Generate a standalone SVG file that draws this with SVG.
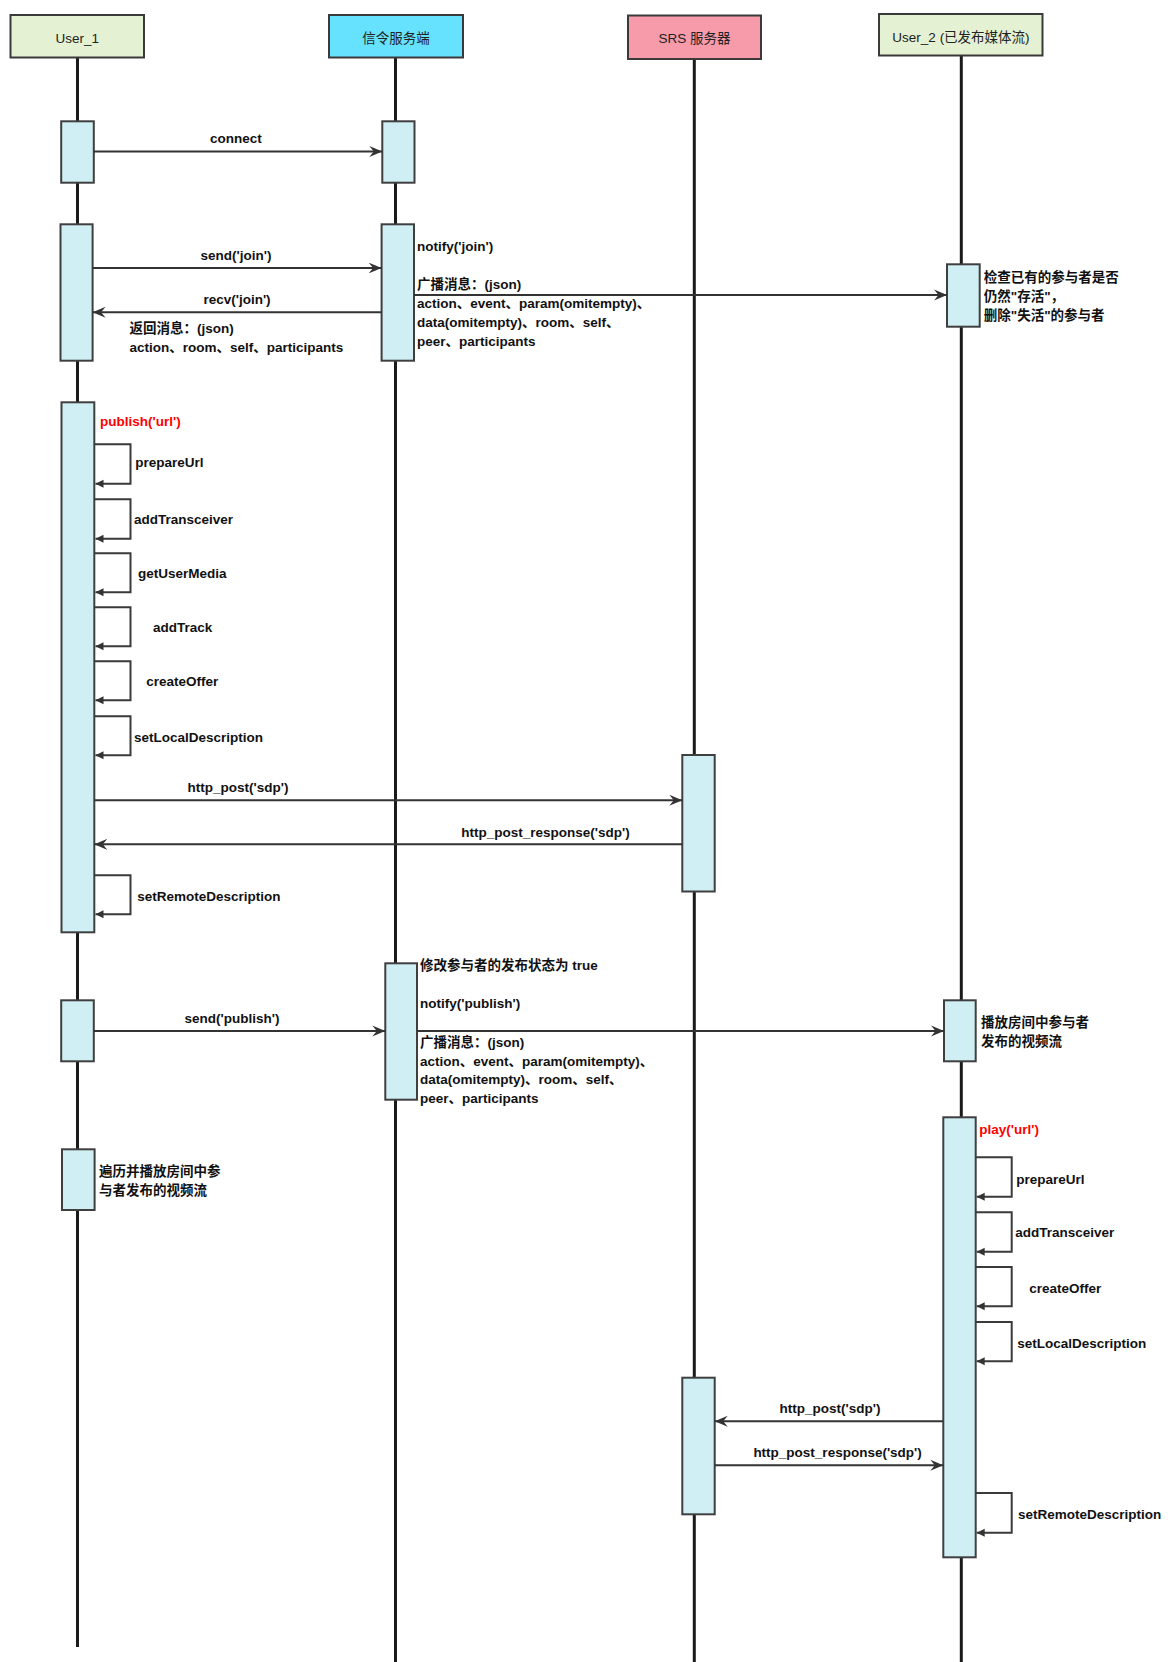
<svg xmlns="http://www.w3.org/2000/svg" width="1168" height="1662" viewBox="0 0 1168 1662">
<defs>
<style>
.life{stroke:#1a1a1a;stroke-width:3;fill:none}
.hdr{stroke:#3a3a3a;stroke-width:2}
.act{fill:#d0eff4;stroke:#3f3f3f;stroke-width:2}
.msg{stroke:#333;stroke-width:2;fill:none}
.loop{stroke:#3a3a3a;stroke-width:2;fill:none}
text{font-family:"Liberation Sans","Noto Sans CJK SC",sans-serif;font-size:13.5px;fill:#111}
.h{font-weight:normal;fill:#222;text-anchor:middle}
.b{font-weight:bold}
.m{font-weight:bold;text-anchor:middle}
.red{fill:#ff0000;font-weight:bold}
</style>
<marker id="open" markerWidth="14" markerHeight="12" refX="13" refY="6" orient="auto" markerUnits="userSpaceOnUse">
<path d="M0,0.5 L13,6 L0,11.5 L4.5,6 Z" fill="#333"/>
</marker>
<marker id="block" markerWidth="10" markerHeight="10" refX="9" refY="5" orient="auto" markerUnits="userSpaceOnUse">
<path d="M1,1 L9,5 L1,9 Z" fill="#333"/>
</marker>
</defs>
<rect width="1168" height="1662" fill="#ffffff"/>

<g id="lifelines">
<line class="life" x1="77.5" y1="58" x2="77.5" y2="1647"/>
<line class="life" x1="395.5" y1="58" x2="395.5" y2="1662"/>
<line class="life" x1="694.3" y1="59" x2="694.3" y2="1662"/>
<line class="life" x1="961.3" y1="56" x2="961.3" y2="1662"/>
</g>

<g id="user1">
<rect class="hdr" x="10.5" y="15" width="133.5" height="42.5" fill="#e4f1d2"/>
<text class="h" x="77.2" y="43">User_1</text>
</g>
<g id="server">
<rect class="hdr" x="329" y="15" width="134" height="42.5" fill="#66e2ff"/>
<text class="h" x="396" y="43">信令服务端</text>
</g>
<g id="srs">
<rect class="hdr" x="628" y="15.5" width="133" height="43.5" fill="#f79aaa"/>
<text class="h" x="694.5" y="43">SRS 服务器</text>
</g>
<g id="user2">
<rect class="hdr" x="879" y="14" width="163.5" height="41.5" fill="#e4f1d2"/>
<text class="h" x="961" y="42">User_2 (已发布媒体流)</text>
</g>

<g id="activations">
<rect class="act" x="61.2" y="121.3" width="32.6" height="61.4"/>
<rect class="act" x="382.3" y="121.3" width="32.2" height="61.4"/>
<rect class="act" x="60.5" y="224.3" width="32.1" height="136.4"/>
<rect class="act" x="381.6" y="224.3" width="32.4" height="136.4"/>
<rect class="act" x="947" y="264.3" width="32.7" height="62.4"/>
<rect class="act" x="61.5" y="402.3" width="32.8" height="530"/>
<rect class="act" x="682.3" y="755" width="32.4" height="136.5"/>
<rect class="act" x="61.2" y="1000.3" width="32.6" height="61"/>
<rect class="act" x="385.3" y="963.3" width="31.7" height="136.4"/>
<rect class="act" x="944" y="1000.3" width="31.7" height="61"/>
<rect class="act" x="62" y="1149.3" width="32.6" height="60.7"/>
<rect class="act" x="943.3" y="1117.3" width="32.4" height="440"/>
<rect class="act" x="682.3" y="1377.7" width="32.4" height="136.6"/>
</g>

<g id="connectors">
<line class="msg" x1="93.8" y1="151.5" x2="382.3" y2="151.5" marker-end="url(#open)"/>
<line class="msg" x1="92.6" y1="268" x2="381.6" y2="268" marker-end="url(#open)"/>
<line class="msg" x1="381.6" y1="312.3" x2="92.6" y2="312.3" marker-end="url(#open)"/>
<line class="msg" x1="414" y1="295" x2="947" y2="295" marker-end="url(#open)"/>
<line class="msg" x1="94.3" y1="800.3" x2="682.3" y2="800.3" marker-end="url(#open)"/>
<line class="msg" x1="682.3" y1="844.3" x2="94.3" y2="844.3" marker-end="url(#open)"/>
<line class="msg" x1="93.8" y1="1031" x2="385.3" y2="1031" marker-end="url(#open)"/>
<line class="msg" x1="417" y1="1031" x2="944" y2="1031" marker-end="url(#open)"/>
<line class="msg" x1="943.3" y1="1421.3" x2="714.7" y2="1421.3" marker-end="url(#open)"/>
<line class="msg" x1="714.7" y1="1465.3" x2="943.3" y2="1465.3" marker-end="url(#open)"/>

<path class="loop" d="M94.5,444.3 H130.5 V483.7 H95.5" marker-end="url(#block)"/>
<path class="loop" d="M94.5,499.3 H130.5 V538.7 H95.5" marker-end="url(#block)"/>
<path class="loop" d="M94.5,553.3 H130.5 V592.3 H95.5" marker-end="url(#block)"/>
<path class="loop" d="M94.5,607.3 H130.5 V646.3 H95.5" marker-end="url(#block)"/>
<path class="loop" d="M94.5,661.3 H130.5 V700.3 H95.5" marker-end="url(#block)"/>
<path class="loop" d="M94.5,716.3 H130.5 V755.3 H95.5" marker-end="url(#block)"/>
<path class="loop" d="M94.5,875.3 H130.5 V914.3 H95.5" marker-end="url(#block)"/>

<path class="loop" d="M975.7,1157.3 H1011.7 V1196.7 H976.7" marker-end="url(#block)"/>
<path class="loop" d="M975.7,1212.3 H1011.7 V1251.7 H976.7" marker-end="url(#block)"/>
<path class="loop" d="M975.7,1267 H1011.7 V1306.3 H976.7" marker-end="url(#block)"/>
<path class="loop" d="M975.7,1322 H1011.7 V1361.3 H976.7" marker-end="url(#block)"/>
<path class="loop" d="M975.7,1493 H1011.7 V1532.7 H976.7" marker-end="url(#block)"/>
</g>

<g id="labels">
<text class="m" x="236" y="142.5">connect</text>
<text class="m" x="236" y="260">send('join')</text>
<text class="m" x="237" y="304">recv('join')</text>
<text class="b" x="129.4" y="333.3">返回消息：(json)</text>
<text class="b" x="129.4" y="352.3">action、room、self、participants</text>
<text class="b" x="417" y="251">notify('join')</text>
<text class="b" x="417" y="289">广播消息：(json)</text>
<text class="b" x="417" y="308">action、event、param(omitempty)、</text>
<text class="b" x="417" y="327">data(omitempty)、room、self、</text>
<text class="b" x="417" y="346">peer、participants</text>
<text class="b" x="983.8" y="281.7">检查已有的参与者是否</text>
<text class="b" x="983.8" y="301">仍然"存活"，</text>
<text class="b" x="983.8" y="320">删除"失活"的参与者</text>

<text class="red" x="100" y="425.7">publish('url')</text>
<text class="b" x="135.3" y="467.3">prepareUrl</text>
<text class="b" x="134" y="524.3">addTransceiver</text>
<text class="b" x="138" y="578.3">getUserMedia</text>
<text class="b" x="153" y="632.3">addTrack</text>
<text class="b" x="146.3" y="686.3">createOffer</text>
<text class="b" x="134" y="741.7">setLocalDescription</text>
<text class="m" x="238" y="791.7">http_post('sdp')</text>
<text class="m" x="545.5" y="836.7">http_post_response('sdp')</text>
<text class="b" x="137.3" y="901">setRemoteDescription</text>

<text class="b" x="420" y="970">修改参与者的发布状态为 true</text>
<text class="b" x="420" y="1008.3">notify('publish')</text>
<text class="m" x="232" y="1023.3">send('publish')</text>
<text class="b" x="420" y="1046.7">广播消息：(json)</text>
<text class="b" x="420" y="1065.7">action、event、param(omitempty)、</text>
<text class="b" x="420" y="1084.3">data(omitempty)、room、self、</text>
<text class="b" x="420" y="1103.3">peer、participants</text>
<text class="b" x="981" y="1027.3">播放房间中参与者</text>
<text class="b" x="981" y="1046">发布的视频流</text>
<text class="b" x="99" y="1175.7">遍历并播放房间中参</text>
<text class="b" x="99" y="1195">与者发布的视频流</text>

<text class="red" x="979.3" y="1134.3">play('url')</text>
<text class="b" x="1016.3" y="1184.3">prepareUrl</text>
<text class="b" x="1015.3" y="1237.3">addTransceiver</text>
<text class="b" x="1029.3" y="1292.7">createOffer</text>
<text class="b" x="1017.3" y="1347.7">setLocalDescription</text>
<text class="m" x="830" y="1413.3">http_post('sdp')</text>
<text class="m" x="837.6" y="1456.7">http_post_response('sdp')</text>
<text class="b" x="1017.9" y="1519.3">setRemoteDescription</text>
</g>
</svg>
